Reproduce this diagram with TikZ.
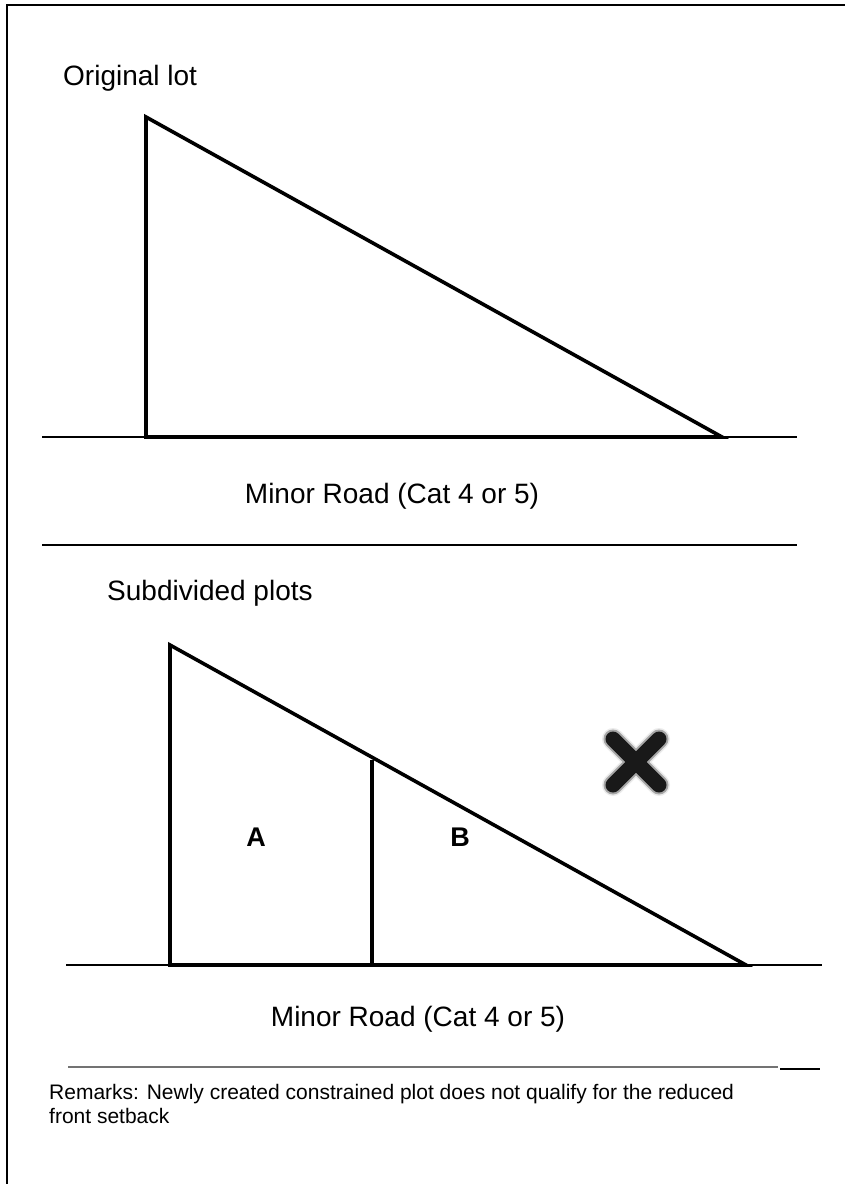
\documentclass[tikz,border=0pt]{standalone}
\usepackage{fontspec}
\setmainfont{Liberation Sans}
\begin{document}
\begin{tikzpicture}[x=1pt,y=-1pt,
  lotline/.style={line width=3.6pt, line join=miter},
  road/.style={line width=1.4pt},
  caption/.style={font=\fontsize{28}{32}\selectfont, inner sep=0pt},
  plotname/.style={font=\fontsize{27}{32}\selectfont\bfseries, inner sep=0pt},
  note/.style={font=\fontsize{21}{24}\selectfont, inner sep=0pt, align=left},
]
\useasboundingbox (0,0) rectangle (845,1184);
\fill[white] (0,0) rectangle (845,1184);

% page frame (top and left edges)
\draw[line width=2.6pt] (7,1184) -- (7,5) -- (845,5);

% ---- original lot ----
\node[caption, anchor=base west] (t1) at (63,85) {Original lot};
\coordinate (a1) at (146,117);
\coordinate (b1) at (146,437);
\coordinate (c1) at (722,437);
\coordinate (r1l) at (42,437);
\coordinate (r1r) at (797,437);
\draw[road] (r1l) -- (r1r);
\draw[lotline] (a1) -- (b1) -- (c1) -- cycle;
\node[caption, anchor=base] (road1) at (392,503) {Minor Road (Cat 4 or 5)};

% separator
\coordinate (s1l) at (42,545);
\coordinate (s1r) at (797,545);
\draw[road] (s1l) -- (s1r);

% ---- subdivided plots ----
\node[caption, anchor=base west] (t2) at (107,600) {Subdivided plots};
\coordinate (a2) at (170,645);
\coordinate (b2) at (170,965);
\coordinate (c2) at (746,965);
\coordinate (d2top) at (372,760);
\coordinate (d2bot) at (372,965);
\coordinate (r2l) at (66,965);
\coordinate (r2r) at (822,965);
\draw[road] (r2l) -- (r2r);
\draw[lotline] (a2) -- (b2) -- (c2) -- cycle;
\draw[lotline] (d2top) -- (d2bot);
\node[plotname, anchor=base] (pa) at (256,846) {A};
\node[plotname, anchor=base] (pb) at (460,846) {B};
\node[caption, anchor=base] (road2) at (418,1026) {Minor Road (Cat 4 or 5)};

% rejection mark
\coordinate (xc) at (636,762);
\foreach \w/\c in {22/black!8, 19/black!35, 15/black!90}{
  \draw[line width=\w pt, color=\c, line cap=round]
    ([shift={(-23,-23)}]xc) -- ([shift={(23,23)}]xc)
    ([shift={(-23,23)}]xc) -- ([shift={(23,-23)}]xc);
}

% lower separator
\coordinate (s2l) at (68,1067);
\coordinate (s2r) at (778,1067);
\coordinate (s3l) at (780,1069);
\coordinate (s3r) at (820,1069);
\draw[line width=1.2pt, black!55] (s2l) -- (s2r);
\draw[line width=2pt] (s3l) -- (s3r);

% remarks
\node[note, anchor=north west] (rem) at (49,1084)
  {Remarks: Newly created constrained plot does not qualify for the reduced\\front setback};
\end{tikzpicture}
\end{document}
